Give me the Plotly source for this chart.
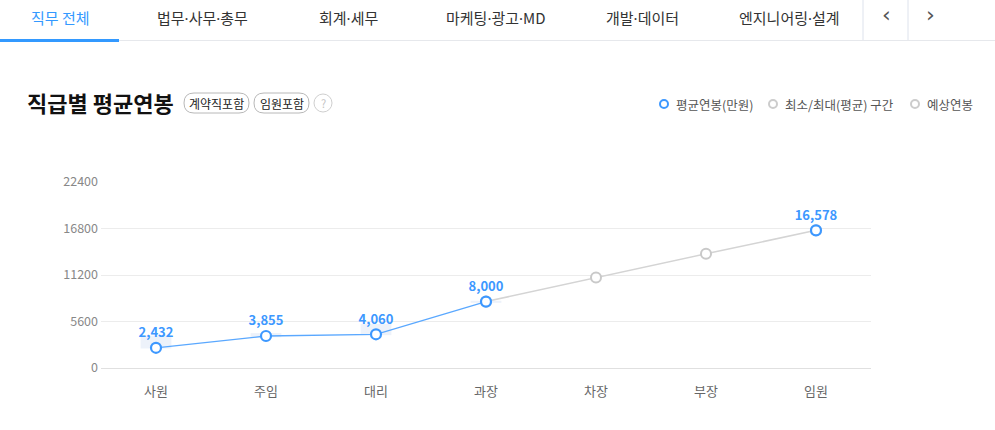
import plotly.graph_objects as go

W, H = 995, 430
FONT = "Noto Sans CJK KR"
BLUE = "#3d98ff"

categories = ["사원", "주임", "대리", "과장", "차장", "부장", "임원"]
avg_salary = [2432, 3855, 4060, 8000, None, None, 16578]
expected_salary = [None, None, None, 8000, 10900, 13750, 16578]
range_min = [2350, 3700, 3950, 7850]
range_max = [3900, 4200, 5300, 8100]
y_ticks = [0, 5600, 11200, 16800, 22400]
tabs = ["직무 전체", "법무·사무·총무", "회계·세무", "마케팅·광고·MD", "개발·데이터", "엔지니어링·설계"]
tab_x = [60, 202, 348, 496, 642, 789]
legend_items = ["평균연봉(만원)", "최소/최대(평균) 구간", "예상연봉"]


def px(x):
    return x / W


def py(y):
    return (H - y) / H


def dotfix(s):
    return s.replace("·", '<span style="font-family:Noto Sans">·</span>')


fig = go.Figure()

# min/max bands
fig.add_trace(go.Bar(
    x=categories[:len(range_min)],
    y=[b - a for a, b in zip(range_min, range_max)],
    base=range_min, width=0.28,
    marker=dict(color="#edf2fa", line=dict(width=0)),
    hoverinfo="skip", showlegend=False))

# expected (gray)
fig.add_trace(go.Scatter(
    x=categories, y=expected_salary, mode="lines+markers",
    line=dict(color="#d4d4d4", width=1.5),
    marker=dict(size=10, color="white", line=dict(color="#c9c9c9", width=2)),
    showlegend=False, connectgaps=False))

# average (blue)
blue_idx = [i for i in range(4)]
fig.add_trace(go.Scatter(
    x=[categories[i] for i in blue_idx], y=[avg_salary[i] for i in blue_idx],
    mode="lines+markers+text",
    text=[f"{avg_salary[i]:,}" for i in blue_idx], textposition="top center",
    textfont=dict(family=FONT, size=13, color=BLUE, weight="bold"),
    line=dict(color="#5aa8ff", width=1.3),
    marker=dict(size=10, color="white", line=dict(color=BLUE, width=2.2)),
    showlegend=False))
fig.add_trace(go.Scatter(
    x=[categories[6]], y=[avg_salary[6]], mode="markers+text",
    text=[f"{avg_salary[6]:,}"], textposition="top center",
    textfont=dict(family=FONT, size=13, color=BLUE, weight="bold"),
    marker=dict(size=10, color="white", line=dict(color=BLUE, width=2.2)),
    showlegend=False))

shapes = []
annotations = []

# header tabs
shapes.append(dict(type="line", xref="paper", yref="paper", x0=0, x1=1, y0=py(40.5), y1=py(40.5),
                   line=dict(color="#e6e8ec", width=1)))
shapes.append(dict(type="rect", xref="paper", yref="paper", x0=px(0), x1=px(119), y0=py(42), y1=py(39),
                   fillcolor="#3399ff", line=dict(width=0)))
for sx in [863, 908]:
    shapes.append(dict(type="line", xref="paper", yref="paper", x0=px(sx), x1=px(sx), y0=py(0), y1=py(40),
                       line=dict(color="#dde2ec", width=1)))
for i, (t, x) in enumerate(zip(tabs, tab_x)):
    annotations.append(dict(text=dotfix(t), x=px(x), y=py(17), xref="paper", yref="paper", showarrow=False,
                            xanchor="center", yanchor="middle",
                            font=dict(family=FONT, size=15, color="#3399ff" if i == 0 else "#333333")))
for t, x in [("‹", 886), ("›", 930)]:
    annotations.append(dict(text=t, x=px(x), y=py(15), xref="paper", yref="paper", showarrow=False,
                            xanchor="center", yanchor="middle",
                            font=dict(family="DejaVu Sans", size=22, color="#555555")))

# title
annotations.append(dict(text="<b>직급별 평균연봉</b>", x=px(25), y=py(102), xref="paper", yref="paper",
                        showarrow=False, xanchor="left", yanchor="middle",
                        font=dict(family=FONT, size=22, color="#111111")))


def rounded_rect(x0, y0, x1, y1, r):
    pts = [
        f"M {px(x0 + r)},{py(y0)}", f"L {px(x1 - r)},{py(y0)}",
        f"Q {px(x1)},{py(y0)} {px(x1)},{py(y0 + r)}", f"L {px(x1)},{py(y1 - r)}",
        f"Q {px(x1)},{py(y1)} {px(x1 - r)},{py(y1)}", f"L {px(x0 + r)},{py(y1)}",
        f"Q {px(x0)},{py(y1)} {px(x0)},{py(y1 - r)}", f"L {px(x0)},{py(y0 + r)}",
        f"Q {px(x0)},{py(y0)} {px(x0 + r)},{py(y0)}", "Z"]
    return " ".join(pts)


for t, x0, x1 in [("계약직포함", 184, 249), ("임원포함", 254, 309)]:
    shapes.append(dict(type="path", xref="paper", yref="paper", path=rounded_rect(x0, 93, x1, 113, 10),
                       line=dict(color="#b8b8b8", width=1), fillcolor="white"))
    annotations.append(dict(text=t, x=px((x0 + x1) / 2), y=py(103), xref="paper", yref="paper",
                            showarrow=False, xanchor="center", yanchor="middle",
                            font=dict(family=FONT, size=12, color="#222222")))
shapes.append(dict(type="circle", xref="paper", yref="paper", x0=px(314), x1=px(332), y0=py(94), y1=py(112),
                   line=dict(color="#cfcfcf", width=1), fillcolor="white"))
annotations.append(dict(text="?", x=px(323), y=py(103), xref="paper", yref="paper", showarrow=False,
                        xanchor="center", yanchor="middle", font=dict(family=FONT, size=11, color="#c4c4c4")))

# legend
for t, cx, col in zip(legend_items, [664, 773, 915], [BLUE, "#cccccc", "#cccccc"]):
    shapes.append(dict(type="circle", xref="paper", yref="paper", x0=px(cx - 4), x1=px(cx + 4),
                       y0=py(100), y1=py(108), line=dict(color=col, width=2), fillcolor="white"))
    annotations.append(dict(text=t, x=px(cx + 10), y=py(104), xref="paper", yref="paper", showarrow=False,
                            xanchor="left", yanchor="middle", font=dict(family=FONT, size=12.5, color="#555555")))

fig.update_layout(
    template="none",
    width=W, height=H, margin=dict(l=0, r=0, t=0, b=0, pad=0), autosize=False,
    paper_bgcolor="white", plot_bgcolor="white", showlegend=False,
    shapes=shapes, annotations=annotations, barmode="overlay",
    font=dict(family=FONT),
    xaxis=dict(domain=[px(101), px(871)], type="category", categoryorder="array", categoryarray=categories,
               range=[-0.5, 6.5], showgrid=False, showline=False, zeroline=False, ticks="", automargin=False,
               tickfont=dict(family=FONT, size=13, color="#666666"), ticklabelstandoff=14),
    yaxis=dict(domain=[py(368), py(182)], range=[0, 22400], tickvals=y_ticks, automargin=False,
               ticktext=[str(v) for v in y_ticks], showgrid=True, gridcolor="#ececec", gridwidth=1,
               zeroline=True, zerolinecolor="#e0e0e0", zerolinewidth=1, showline=False, ticks="",
               tickfont=dict(family=FONT, size=12.5, color="#888888"), ticklabelstandoff=2),
)

fig.write_html("out.html", config={"displayModeBar": False},
               post_script="document.body.style.margin='0';document.body.style.overflow='hidden';")
